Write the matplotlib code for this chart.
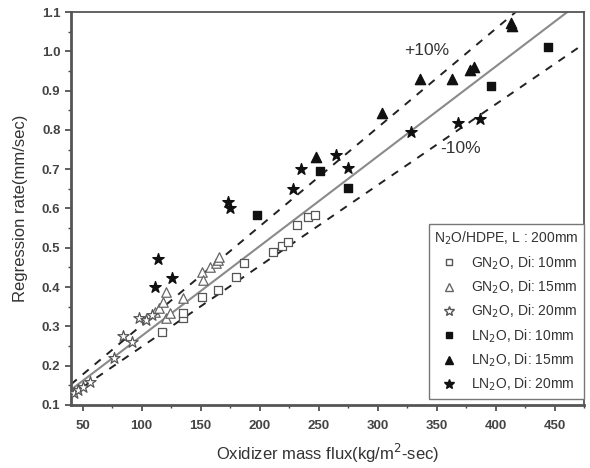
import numpy as np
import matplotlib
matplotlib.use('Agg')
from matplotlib import pyplot as plt
from matplotlib.lines import Line2D

plt.rcParams['font.family'] = ['Liberation Sans', 'DejaVu Sans']

# GN2O (gaseous) data
gn_10_x = [117, 135, 135, 151, 165, 180, 187, 211, 219, 224, 232, 241, 247]
gn_10_y = [0.286, 0.322, 0.334, 0.375, 0.393, 0.426, 0.462, 0.489, 0.505, 0.515, 0.558, 0.578, 0.583]
gn_15_x = [111, 115, 118, 121, 121, 124, 135, 151, 152, 158, 163, 165, 166]
gn_15_y = [0.337, 0.347, 0.362, 0.387, 0.322, 0.334, 0.372, 0.438, 0.418, 0.451, 0.460, 0.469, 0.477]
gn_20_x = [43, 46, 50, 56, 77, 84, 92, 98, 104, 109]
gn_20_y = [0.130, 0.138, 0.146, 0.158, 0.220, 0.276, 0.260, 0.322, 0.316, 0.329]

# LN2O (liquid) data
ln_10_x = [198, 251, 275, 396, 444]
ln_10_y = [0.583, 0.695, 0.652, 0.912, 1.011]
ln_15_x = [248, 304, 336, 363, 378, 382, 413, 414]
ln_15_y = [0.731, 0.843, 0.930, 0.930, 0.952, 0.960, 1.072, 1.065]
ln_20_x = [111, 114, 126, 173, 175, 228, 235, 265, 275, 328, 368, 387]
ln_20_y = [0.400, 0.472, 0.423, 0.617, 0.601, 0.650, 0.700, 0.736, 0.703, 0.795, 0.817, 0.828]

# fitted line through two read points
fit_x = [40, 460.6]
fit_y = [0.138, 1.1]

fig = plt.figure(figsize=(5.9, 4.68), dpi=100)
ax = fig.add_axes([0.12, 0.135, 0.87, 0.839])

xx = np.array([40, 475])
slope = (fit_y[1] - fit_y[0]) / (fit_x[1] - fit_x[0])
yy = fit_y[0] + slope * (xx - fit_x[0])
ax.plot(xx, yy, color='#8a8a8a', lw=1.5, zorder=1)
ax.plot(xx, yy * 1.1, color='#222222', lw=1.4, ls=(0, (4, 4)), zorder=1)
ax.plot(xx, yy * 0.9, color='#222222', lw=1.4, ls=(0, (4, 4)), zorder=1)

ms = 36
ax.scatter(gn_10_x, gn_10_y, marker='s', s=ms, facecolors='white', edgecolors='#555555', lw=0.9, zorder=3)
ax.scatter(gn_15_x, gn_15_y, marker='^', s=ms * 1.3, facecolors='white', edgecolors='#666666', lw=0.9, zorder=3)
ax.scatter(gn_20_x, gn_20_y, marker='*', s=ms * 2.0, facecolors='white', edgecolors='#555555', lw=0.9, zorder=3)
ax.scatter(ln_10_x, ln_10_y, marker='s', s=ms, color='#111111', zorder=4)
ax.scatter(ln_15_x, ln_15_y, marker='^', s=ms * 1.5, color='#111111', zorder=4)
ax.scatter(ln_20_x, ln_20_y, marker='*', s=ms * 2.0, color='#111111', zorder=4)

ax.text(342, 1.003, '+10%', fontsize=12.5, color='#333333', ha='center', va='center')
ax.text(370, 0.754, '-10%', fontsize=12.5, color='#333333', ha='center', va='center')

ax.set_xlim(40, 475)
ax.set_ylim(0.1, 1.1)
ax.set_xticks(np.arange(50, 451, 50))
ax.set_xticks(np.arange(75, 476, 50), minor=True)
ax.set_yticks(np.arange(0.1, 1.101, 0.1))
ax.set_yticks(np.arange(0.15, 1.1, 0.1), minor=True)
ax.yaxis.set_major_formatter(matplotlib.ticker.FormatStrFormatter('%.1f'))
ax.tick_params(axis='both', which='major', direction='out', length=4, width=1.2,
               color='#444444', labelsize=9.5, labelcolor='#444444')
ax.tick_params(axis='x', which='major', pad=7)
ax.tick_params(axis='both', which='minor', direction='out', length=2.5, width=1.0, color='#444444')
for lbl in ax.get_xticklabels() + ax.get_yticklabels():
    lbl.set_fontweight('bold')
for sp in ax.spines.values():
    sp.set_color('#555555')
    sp.set_linewidth(1.3)
ax.spines['left'].set_linewidth(2)
ax.spines['bottom'].set_linewidth(2)

ax.set_xlabel('Oxidizer mass flux(kg/m$^2$-sec)', fontsize=12, color='#333333', labelpad=7)
ax.set_ylabel('Regression rate(mm/sec)', fontsize=12, color='#333333', labelpad=10)

handles = [
    Line2D([], [], ls='none', marker='s', ms=5, mfc='white', mec='#555555'),
    Line2D([], [], ls='none', marker='^', ms=6, mfc='white', mec='#666666'),
    Line2D([], [], ls='none', marker='*', ms=7, mfc='white', mec='#555555'),
    Line2D([], [], ls='none', marker='s', ms=5, color='#111111'),
    Line2D([], [], ls='none', marker='^', ms=6, color='#111111'),
    Line2D([], [], ls='none', marker='*', ms=7, color='#111111'),
]
labels = ['GN$_2$O, Di: 10mm', 'GN$_2$O, Di: 15mm', 'GN$_2$O, Di: 20mm',
          'LN$_2$O, Di: 10mm', 'LN$_2$O, Di: 15mm', 'LN$_2$O, Di: 20mm']
leg = ax.legend(handles, labels, title='N$_2$O/HDPE, L : 200mm', loc='lower right',
                bbox_to_anchor=(1.0, 0.015), borderaxespad=0, fontsize=10, title_fontsize=10,
                fancybox=False, edgecolor='#777777', framealpha=1,
                handletextpad=0.6, labelspacing=0.5, borderpad=0.4)
for t in leg.get_texts():
    t.set_color('#333333')
leg.get_title().set_color('#333333')

fig.savefig('out.png', dpi=100)
